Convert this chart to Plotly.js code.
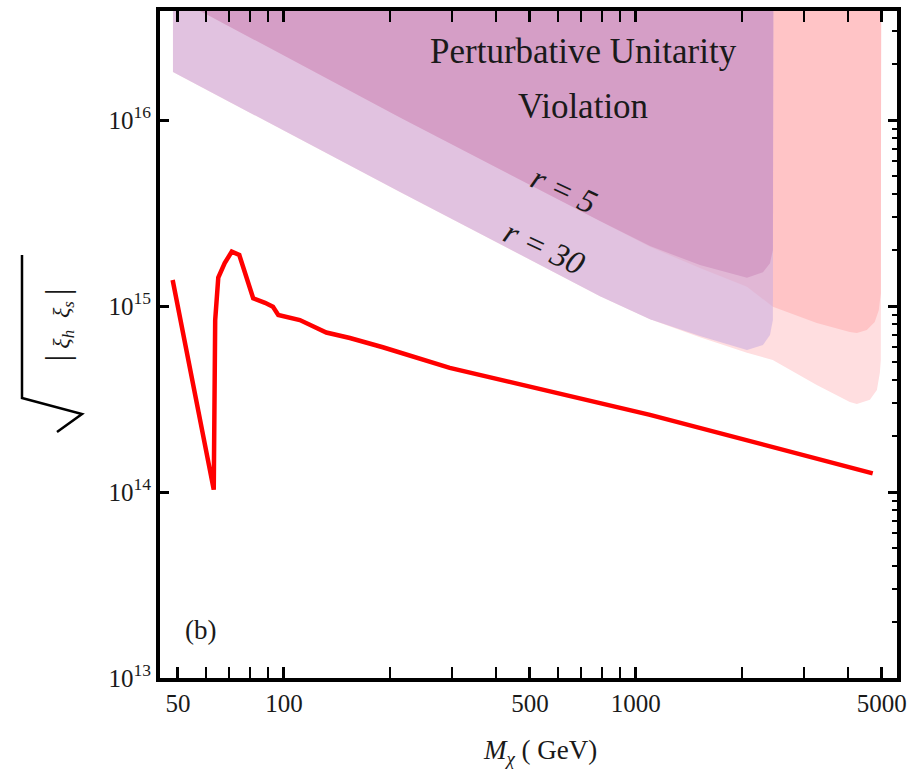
<!DOCTYPE html>
<html>
<head>
<meta charset="utf-8">
<script src="https://cdn.plot.ly/plotly-3.0.1.min.js"></script>
<style>html,body{margin:0;padding:0;background:#fff;}</style>
</head>
<body>
<div id="chart" style="width:924px;height:778px;"></div>
<script>
// ---------- data ----------
// red curve: sqrt(|xi_h xi_s|) bound vs M_chi (GeV)
const redM = [48.3, 63.2, 63.8, 65.1, 67.9, 71.1, 74.7, 81.8, 88.4, 93.1, 96.4, 104, 111, 132, 154, 191, 239, 296, 1097, 4710];
const redV = [1.38e15, 1.03e14, 8.4e14, 1.42e15, 1.70e15, 1.96e15, 1.88e15, 1.10e15, 1.04e15, 9.9e14, 8.95e14, 8.7e14, 8.4e14, 7.2e14, 6.73e14, 6.0e14, 5.3e14, 4.65e14, 2.6e14, 1.26e14];

// unitarity-violation boundaries (lower edges of the shaded regions)
const r30PurpleM = [48.4, 213.8, 791, 1097, 1521, 2069, 2297, 2405, 2451];
const r30PurpleV = [1.81e16, 4.10e15, 1.13e15, 8.5e14, 6.9e14, 5.8e14, 6.17e14, 6.98e14, 8.4e14];
const r5PurpleM  = [48.4, 60.8, 213.8, 791, 1097, 1521, 2069, 2297, 2405, 2451];
const r5PurpleV  = [4.6e16, 3.67e16, 1.03e16, 2.86e15, 2.10e15, 1.66e15, 1.42e15, 1.52e15, 1.70e15, 2.0e15];
const purpleEdgeM = 2460;

const r30PinkM = [48.4, 213.8, 791, 1097, 1521, 2069, 2449, 3266, 4055, 4246, 4624, 4840, 4935, 4966];
const r30PinkV = [1.81e16, 4.10e15, 1.13e15, 8.5e14, 6.8e14, 5.6e14, 5.13e14, 3.76e14, 3.05e14, 2.97e14, 3.13e14, 3.53e14, 4.37e14, 5.13e14];
const r5PinkM  = [48.4, 60.8, 213.8, 791, 1097, 1521, 2069, 2451, 3266, 4055, 4246, 4532, 4772, 4900, 4966];
const r5PinkV  = [4.6e16, 3.67e16, 1.03e16, 2.86e15, 2.08e15, 1.60e15, 1.27e15, 9.9e14, 8.1e14, 7.24e14, 7.16e14, 7.43e14, 8.2e14, 9.5e14, 1.17e15];
const pinkEdgeM = 4980;
const regionTop = 1e17;

// ticks
const xMajor = [50, 100, 500, 1000, 5000];
const xMajorText = ['50', '100', '500', '1000', '5000'];
const xMinor = [60, 70, 80, 90, 200, 300, 400, 600, 700, 800, 900, 2000, 3000, 4000];
const yMajor = [1e13, 1e14, 1e15, 1e16];
const yMajorText = ['10<sup>13</sup>', '10<sup>14</sup>', '10<sup>15</sup>', '10<sup>16</sup>'];
const yMinor = [];
[1e13, 1e14, 1e15, 1e16].forEach(d => { for (let k = 2; k <= 9; k++) yMinor.push(k * d); });

// ---------- helpers ----------
function region(M, V, edgeM, fill) {
  return {
    x: [M[0]].concat(M, [edgeM, M[0]]),
    y: [regionTop].concat(V, [regionTop, regionTop]),
    mode: 'lines', fill: 'toself', fillcolor: fill,
    line: {width: 0, color: 'rgba(0,0,0,0)'},
    hoverinfo: 'skip', showlegend: false
  };
}

const SERIF = 'Liberation Serif';
const TXT = '#1a1a1a';

const traces = [
  region(r30PinkM, r30PinkV, pinkEdgeM, 'rgb(255,222,224)'),
  region(r5PinkM, r5PinkV, pinkEdgeM, 'rgb(255,196,198)'),
  region(r30PurpleM, r30PurpleV, purpleEdgeM, 'rgba(205,175,223,0.6)'),
  region(r5PurpleM, r5PurpleV, purpleEdgeM, 'rgb(213,158,198)'),
  {x: redM, y: redV, mode: 'lines', line: {color: 'rgb(255,0,0)', width: 4.5}, showlegend: false},
  {x: [], y: [], yaxis: 'y2', mode: 'lines', showlegend: false}
];

const axisCommon = {
  type: 'log', ticks: 'inside', tickcolor: 'black', tickwidth: 3,
  showline: true, linecolor: 'black', linewidth: 4,
  showgrid: false, zeroline: false,
  tickfont: {family: SERIF, size: 25, color: TXT}
};

const ann = (text, x, y, size, extra) => Object.assign({
  text: text, xref: 'paper', yref: 'paper', x: x, y: y, showarrow: false,
  xanchor: 'center', yanchor: 'middle', font: {family: SERIF, size: size, color: TXT}
}, extra || {});

const layout = {
  width: 924, height: 778,
  margin: {l: 160, r: 27, t: 11, b: 100},
  paper_bgcolor: 'white', plot_bgcolor: 'white',
  showlegend: false,
  xaxis: Object.assign({}, axisCommon, {
    range: [1.648, 3.742], tickmode: 'array', tickvals: xMajor, ticktext: xMajorText,
    ticklen: 11, mirror: 'allticks',
    minor: {tickmode: 'array', tickvals: xMinor, ticks: 'inside', ticklen: 5, tickwidth: 2, tickcolor: 'black', showgrid: false}
  }),
  yaxis: Object.assign({}, axisCommon, {
    range: [13, 16.586], tickmode: 'array', tickvals: yMajor, ticktext: yMajorText,
    ticklen: 9, mirror: false
  }),
  yaxis2: Object.assign({}, axisCommon, {
    range: [13, 16.586], overlaying: 'y', side: 'right', tickmode: 'array', tickvals: yMajor,
    ticklen: 9, showticklabels: false,
    minor: {tickmode: 'array', tickvals: yMinor, ticks: 'inside', ticklen: 5, tickwidth: 2, tickcolor: 'black', showgrid: false}
  }),
  annotations: [
    ann('Perturbative Unitarity', 0.574, 0.939, 35),
    ann('Violation', 0.574, 0.857, 35),
    ann('<i>r = 5</i>', 0.548, 0.732, 33, {textangle: 25}),
    ann('<i>r = 30</i>', 0.522, 0.645, 33, {textangle: 25}),
    ann('(b)', 0.0543, 0.072, 27),
    ann('<i>M</i><sub><i>χ</i></sub> ( GeV)', 0.516, -0.111, 27),
    ann('<span style="font-size:34px">|</span>\u00a0<i>ξ</i><sub><i>h</i></sub>\u00a0\u00a0<i>ξ</i><sub><i>s</i></sub>\u00a0<span style="font-size:34px">|</span>',
        -0.138, 0.529, 24, {textangle: -90})
  ],
  shapes: [
    {type: 'path', xref: 'paper', yref: 'paper',
     path: 'M -0.18725 0.63418 L -0.18725 0.41979 L -0.10583 0.39580 L -0.13976 0.36882',
     line: {color: 'black', width: 2.5}}
  ]
};

Plotly.newPlot('chart', traces, layout, {displayModeBar: false, staticPlot: true});
</script>
</body>
</html>
